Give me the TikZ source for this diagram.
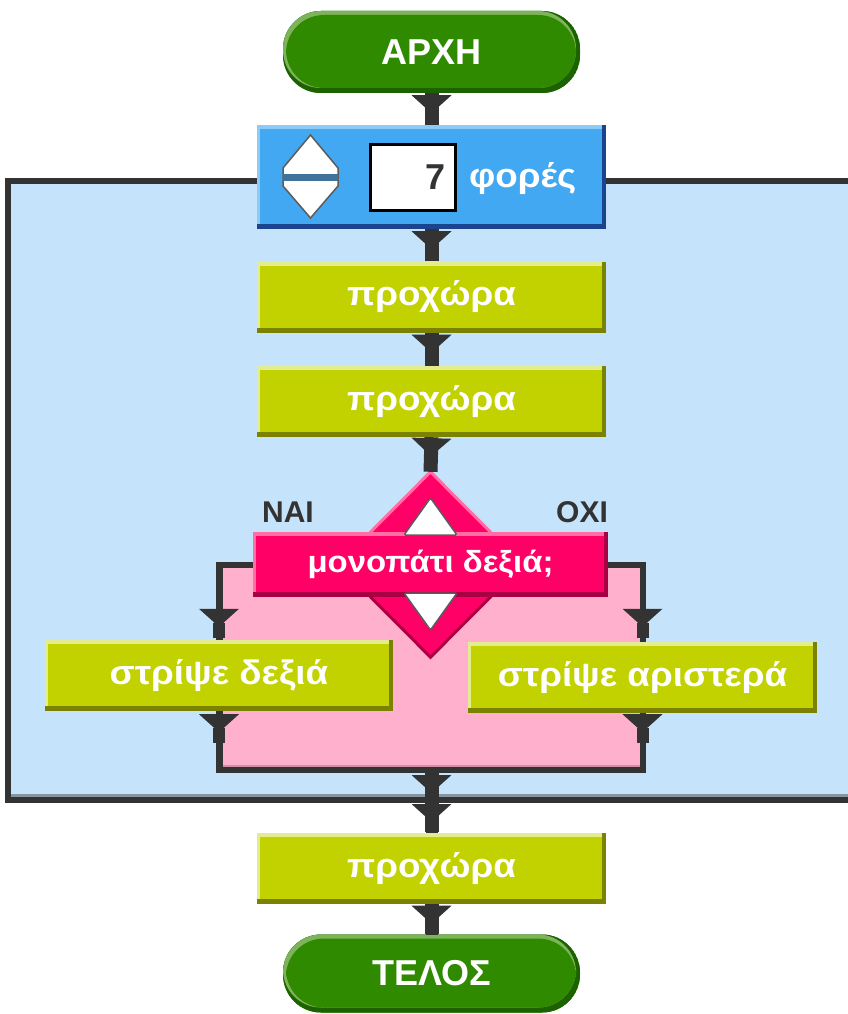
\documentclass[tikz,border=0pt]{standalone}
\usepackage{fontspec}
\setmainfont{Liberation Sans}
\newfontfamily\wfont{Liberation Sans}[FakeStretch=1.08]
\usetikzlibrary{decorations.markings,shapes.geometric}
\definecolor{linec}{HTML}{333333}
\definecolor{loopbg}{HTML}{C5E3FA}
\definecolor{pinkarea}{HTML}{FFB0CC}
\definecolor{limelight}{HTML}{E4EC90}
\definecolor{limemain}{HTML}{C2D100}
\definecolor{limedark}{HTML}{7A8200}
\definecolor{bluelight}{HTML}{8DCBF7}
\definecolor{bluemain}{HTML}{42A8F2}
\definecolor{bluedark}{HTML}{1B4490}
\definecolor{greenlight}{HTML}{7DB35A}
\definecolor{greenmain}{HTML}{2F8A00}
\definecolor{greendark}{HTML}{1C6200}
\definecolor{pinklight}{HTML}{FF6FA5}
\definecolor{pinkmain}{HTML}{FF0066}
\definecolor{pinkdark}{HTML}{A80043}
\definecolor{iconbar}{HTML}{3F7399}
\tikzset{
  bevel/.style n args={3}{fill=#2, path picture={
      \fill[#3] (path picture bounding box.south west) rectangle (path picture bounding box.north east);
      \fill[#1] ([yshift=5pt]path picture bounding box.south west) rectangle ([xshift=-4pt]path picture bounding box.north east);
      \fill[#2] ([xshift=3pt,yshift=5pt]path picture bounding box.south west) rectangle ([xshift=-4pt,yshift=-4pt]path picture bounding box.north east);
  }},
  lowtext/.style={text=white, font=\wfont\bfseries\fontsize{34}{38}\selectfont},
  block/.style={bevel={limelight}{limemain}{limedark}, minimum width=349pt, minimum height=71pt, inner sep=0pt, lowtext},
  pill/.style={bevel={greenlight}{greenmain}{greendark}, rounded corners=38pt, minimum width=297pt, minimum height=82pt, inner sep=0pt, text=white, font=\bfseries\fontsize{36}{40}\selectfont},
  conn/.style={draw=linec, line width=14pt},
  thinconn/.style={draw=linec, line width=6pt},
  head/.style={postaction={decorate, decoration={markings, mark=at position #1 with {\fill[linec] (-18pt,-20pt) -- (-18pt,20pt) -- (0pt,0pt) -- cycle; \fill[linec] (-4pt,-6pt) rectangle (11pt,6pt);}}}},
  branchlabel/.style={text=linec, font=\bfseries\fontsize{30}{34}\selectfont, inner sep=0pt},
}
\begin{document}
\begin{tikzpicture}[x=1pt,y=-1pt]
\useasboundingbox (0,0) rectangle (848,1014);
% loop container
\begin{scope}
\clip (0,0) rectangle (848,1014);
\draw[linec, line width=6pt, fill=loopbg] (8,180.5) rectangle (880,800);
\draw[color=black!30!loopbg!70!gray, line width=2.5pt] (11,795.5) -- (880,795.5);
\end{scope}
% pink branch area
\draw[linec, line width=5.5pt, fill=pinkarea] (220,565) rectangle (643,770);
\draw[color=pinkarea!70!black!60!pinkarea, line width=2.5pt] (223,766) -- (640,766);

% nodes
\node[pill] (start) at (431.5,52) {ΑΡΧΗ};
\node[bevel={bluelight}{bluemain}{bluedark}, minimum width=349pt, minimum height=104pt, inner sep=0pt] (loop) at (431.5,177) {};
\draw[draw=linec!80, line width=1.5pt, fill=white] (310.5,135) -- (338,168) -- (338,186) -- (310.5,218) -- (283,186) -- (283,168) -- cycle;
\fill[iconbar] (283,174) rectangle (338,181);
\node[draw=black, line width=3pt, fill=white, minimum width=85pt, minimum height=66pt, text width=67pt, inner xsep=6pt, inner ysep=0pt, align=right, text=linec, font=\bfseries\fontsize{36}{40}\selectfont] (count) at (412.5,177) {7};
\node[lowtext, inner sep=0pt, anchor=west] (times) at (469,179) {φορές};

\node[block] (p1) at (431.5,297) {προχώρα};
\node[block] (p2) at (431.5,401.5) {προχώρα};

\node[diamond, fill=pinkmain, minimum width=184pt, minimum height=185pt, inner sep=0pt] (dia) at (430.5,564.5) {};
\draw[pinklight, line width=3pt] (dia.west) -- (dia.north) -- (dia.east);
\draw[pinkdark, line width=3pt] (dia.west) -- (dia.south) -- (dia.east);
\node[bevel={pinklight}{pinkmain}{pinkdark}, minimum width=355pt, minimum height=65pt, inner sep=0pt, text=white, font=\wfont\bfseries\fontsize{30.5}{33}\selectfont] (cond) at (430.5,564.5) {μονοπάτι δεξιά;};
\draw[draw=linec!80, line width=1.5pt, fill=white, rounded corners=1.5pt] (430.5,498) -- (457,535) -- (404,535) -- cycle;
\draw[draw=linec!80, line width=1.5pt, fill=white, rounded corners=1.5pt] (430.5,630) -- (457,593) -- (404,593) -- cycle;
\node[branchlabel] (yes) at (288,512) {ΝΑΙ};
\node[branchlabel] (no) at (582,512) {ΟΧΙ};

\node[block, minimum width=348pt] (left) at (219,675.5) {στρίψε δεξιά};
\node[block] (right) at (642.5,677.5) {στρίψε αριστερά};

\coordinate (merge) at (431.5,770);
\coordinate (loopbot) at (431.5,800);

\node[block] (p3) at (431.5,868) {προχώρα};
\node[pill, minimum height=78pt] (stop) at (431.5,973.5) {ΤΕΛΟΣ};

% connectors
\draw[conn, head=20pt] (start.south) -- (loop.north);
\draw[conn, head=20pt] (loop.south) -- (p1.north);
\draw[conn, head=20pt] (p1.south) -- (p2.north);
\draw[conn, head=19pt] (p2.south) -- (dia.north);
\draw[thinconn, head=-13pt] (cond.west) -| (left.north);
\draw[thinconn, head=-15pt] (cond.east) -| (right.north);
\draw[thinconn, head=21pt] (left.south) |- (merge);
\draw[thinconn, head=19pt] (right.south) |- (merge);
\draw[conn, head=23pt] (merge) -- (loopbot);
\draw[conn, head=22pt] (loopbot) -- (p3.north);
\draw[conn, head=20pt] (p3.south) -- (stop.north);
\end{tikzpicture}
\end{document}
